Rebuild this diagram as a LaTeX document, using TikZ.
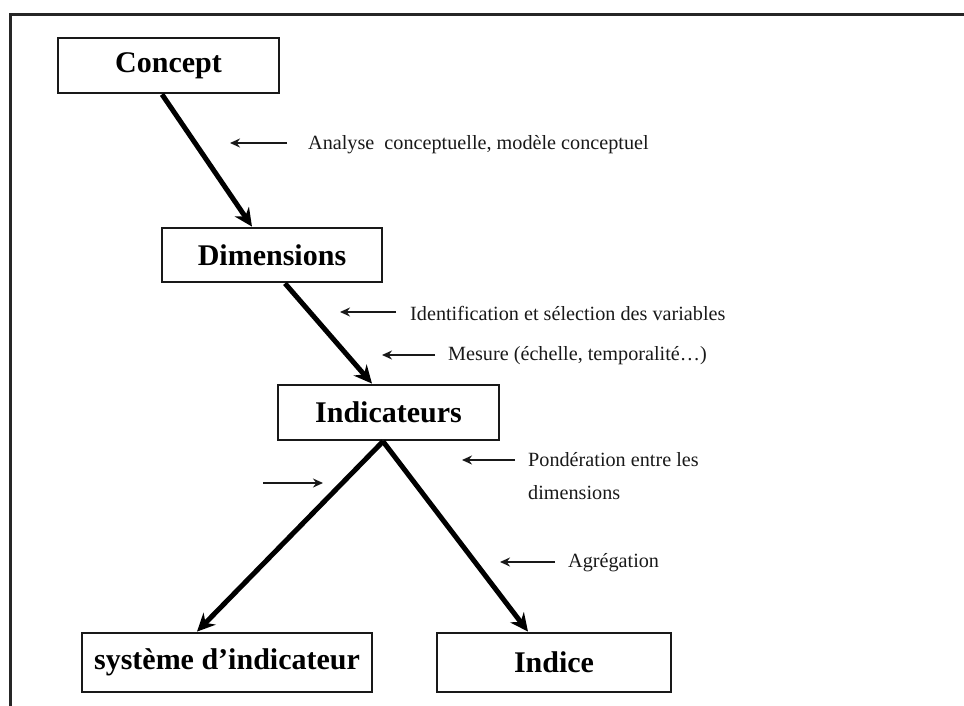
\documentclass[tikz,border=0pt]{standalone}
\usepackage{fontspec}
\setmainfont{Liberation Serif}
\usetikzlibrary{arrows.meta}
\begin{document}
\begin{tikzpicture}[x=1pt,y=-1pt,
  box/.style={draw=black!90, line width=2.8pt, inner sep=0pt,
    font=\fontsize{30}{36}\selectfont\bfseries},
  bigarrow/.style={draw=black, line width=5pt, -{Stealth[length=18pt,width=17pt]}},
  smallarrow/.style={draw=black!90, line width=1.8pt, -{Stealth[length=10pt,width=9pt]}},
  lbl/.style={anchor=west, inner sep=0pt, font=\fontsize{20.2}{33}\selectfont, text=black!90},
  frameline/.style={draw=black!85, line width=3pt}]
\useasboundingbox (0,0) rectangle (964,706);
\draw[frameline] (10,706) -- (10,14.5) -- (964,14.5);

\node[box, minimum width=221pt, minimum height=55pt] (concept) at (168.5,65.5) {Concept};
\node[box, minimum width=220pt, minimum height=54pt] (dim) at (272,255) {Dimensions};
\node[box, minimum width=221pt, minimum height=55pt] (ind) at (388.5,412.5) {Indicateurs};
\node[box, minimum width=290pt, minimum height=59pt] (sys) at (227,662.5) {système d’indicateur};
\node[box, minimum width=234pt, minimum height=59pt] (indice) at (554,662.5) {Indice};

\draw[bigarrow] ([xshift=-6.5pt]concept.south) -- ([xshift=-20pt]dim.north);
\draw[bigarrow] ([xshift=13pt]dim.south) -- ([xshift=-16.5pt]ind.north);
\draw[bigarrow] ([xshift=-5.5pt]ind.south) -- ([xshift=-30pt]sys.north);
\draw[bigarrow] ([xshift=-5.5pt]ind.south) -- ([xshift=-26pt]indice.north);

\node[lbl] (t1) at (308,145) {Analyse\ \ conceptuelle, modèle conceptuel};
\node[lbl] (t2) at (410,313) {Identification et sélection des variables};
\node[lbl] (t3) at (448,356) {Mesure (échelle, temporalité…)};
\node[lbl, anchor=north west, align=left] (t4) at (528,452) {Pondération entre les\\dimensions};
\node[lbl] (t5) at (568,563) {Agrégation};

\coordinate (a1s) at (287,143);
\coordinate (a1) at (230,143);
\coordinate (a2s) at (396,312);
\coordinate (a2) at (340,312);
\coordinate (a3s) at (435,355);
\coordinate (a3) at (382,355);
\coordinate (a4s) at (515,460);
\coordinate (a4) at (462,460);
\coordinate (a5s) at (555,562);
\coordinate (a5) at (500,562);
\coordinate (a6s) at (263,483);
\coordinate (a6) at (323,483);

\draw[smallarrow] (a1s) -- (a1);
\draw[smallarrow] (a2s) -- (a2);
\draw[smallarrow] (a3s) -- (a3);
\draw[smallarrow] (a4s) -- (a4);
\draw[smallarrow] (a5s) -- (a5);
\draw[smallarrow] (a6s) -- (a6);
\end{tikzpicture}
\end{document}
